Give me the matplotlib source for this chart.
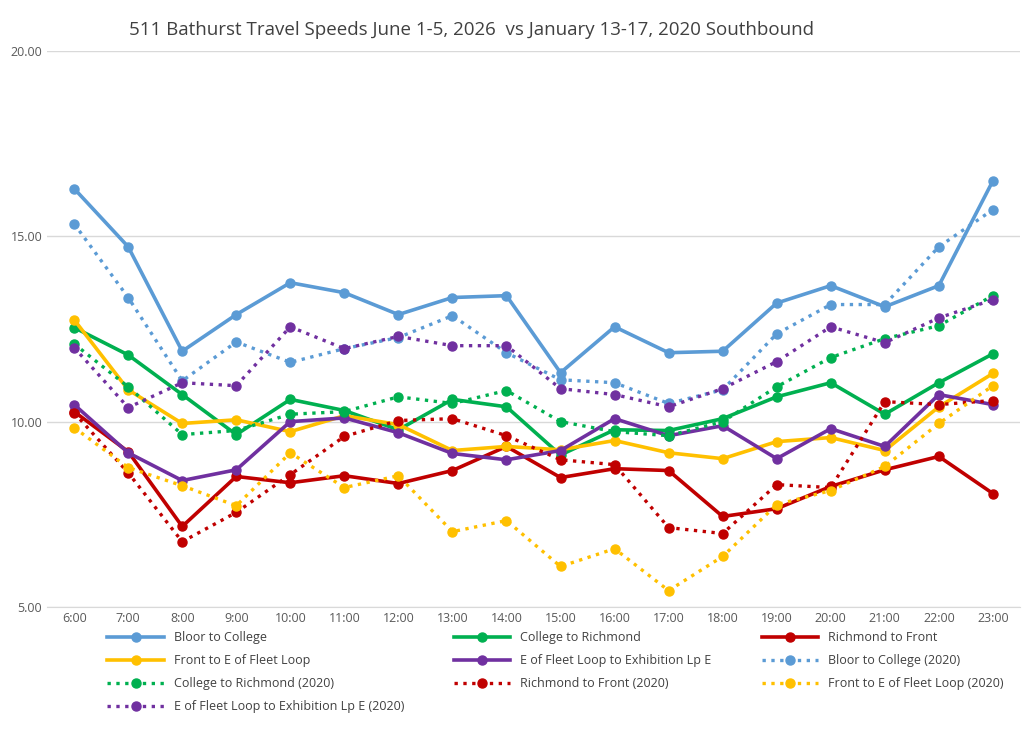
import matplotlib
matplotlib.use("Agg")
import matplotlib.pyplot as plt
from matplotlib.ticker import FormatStrFormatter

hours = ["6:00","7:00","8:00","9:00","10:00","11:00","12:00","13:00","14:00","15:00","16:00","17:00","18:00","19:00","20:00","21:00","22:00","23:00"]

bloor = [16.29,14.72,11.9,12.89,13.75,13.48,12.89,13.35,13.4,11.32,12.56,11.86,11.9,13.2,13.67,13.1,13.67,16.5]
college = [12.54,11.8,10.73,9.65,10.6,10.3,9.78,10.6,10.4,9.1,9.78,9.76,10.08,10.67,11.05,10.2,11.05,11.83]
richmond = [10.27,9.19,7.17,8.52,8.35,8.54,8.33,8.68,9.33,8.49,8.73,8.68,7.44,7.65,8.25,8.7,9.06,8.06]
front = [12.75,10.86,9.95,10.05,9.73,10.16,9.92,9.22,9.33,9.24,9.49,9.16,9.0,9.46,9.57,9.22,10.4,11.3]
fleet = [10.46,9.16,8.41,8.7,10.0,10.1,9.7,9.14,8.97,9.22,10.08,9.62,9.89,9.0,9.81,9.33,10.73,10.46]

bloor20 = [15.34,13.35,11.1,12.15,11.6,11.97,12.27,12.86,11.86,11.13,11.05,10.49,10.86,12.37,13.16,13.16,14.72,15.72]
college20 = [12.1,10.94,9.65,9.76,10.2,10.27,10.67,10.49,10.84,10.0,9.73,9.62,10.0,10.94,11.73,12.24,12.59,13.4]
richmond20 = [10.24,8.62,6.76,7.55,8.57,9.6,10.03,10.08,9.62,8.97,8.84,7.14,6.98,8.3,8.22,10.54,10.46,10.57]
front20 = [9.84,8.76,8.27,7.73,9.16,8.22,8.54,7.03,7.33,6.09,6.57,5.44,6.36,7.76,8.14,8.79,9.95,10.97]
fleet20 = [12.0,10.38,11.05,10.97,12.56,11.97,12.3,12.05,12.05,10.89,10.73,10.4,10.89,11.62,12.56,12.13,12.8,13.29]

blue, green, red, yellow, purple = "#5B9BD5", "#00B050", "#C00000", "#FFC000", "#7030A0"

series = [
    ("Bloor to College", bloor, blue, "-"),
    ("College to Richmond", college, green, "-"),
    ("Richmond to Front", richmond, red, "-"),
    ("Front to E of Fleet Loop", front, yellow, "-"),
    ("E of Fleet Loop to Exhibition Lp E", fleet, purple, "-"),
    ("Bloor to College (2020)", bloor20, blue, ":"),
    ("College to Richmond (2020)", college20, green, ":"),
    ("Richmond to Front (2020)", richmond20, red, ":"),
    ("Front to E of Fleet Loop (2020)", front20, yellow, ":"),
    ("E of Fleet Loop to Exhibition Lp E (2020)", fleet20, purple, ":"),
]

plt.rcParams['font.family'] = ['Open Sans', 'DejaVu Sans']
fig = plt.figure(figsize=(10.24, 7.41), dpi=100)
ax = fig.add_axes([0.046, 0.181, 0.95, 0.75])
x = list(range(len(hours)))
handles = []
for name, vals, c, ls in series:
    h, = ax.plot(x, vals, ls, color=c, lw=2.6 if ls == "-" else 2.4, marker="o", ms=6.5, label=name)
    handles.append(h)

ax.set_xlim(-0.5, len(hours) - 0.5)
ax.set_ylim(5, 20)
ax.set_yticks([5, 10, 15, 20])
ax.yaxis.set_major_formatter(FormatStrFormatter("%.2f"))
ax.set_xticks(x)
ax.set_xticklabels(hours)
ax.tick_params(length=0, labelsize=9, colors="#595959")
ax.grid(axis="y", color="#D9D9D9", lw=1)
for s in ["top", "right", "left"]:
    ax.spines[s].set_visible(False)
ax.spines["bottom"].set_color("#D9D9D9")
fig.text(0.46, 0.972, "511 Bathurst Travel Speeds June 1-5, 2026  vs January 13-17, 2020 Southbound",
         fontsize=13.5, color="#404040", ha="center", va="top")

# row-major order for 3 columns
order = [0, 3, 6, 9, 1, 4, 7, 2, 5, 8]
fig.legend([handles[i] for i in order], [series[i][0] for i in order],
           loc="upper left", bbox_to_anchor=(0.1, 0.155), ncol=3, frameon=False,
           fontsize=9, labelcolor="#404040", handlelength=4.5, columnspacing=4, borderaxespad=0,
           labelspacing=0.8)
fig.savefig("out.png", dpi=100)
